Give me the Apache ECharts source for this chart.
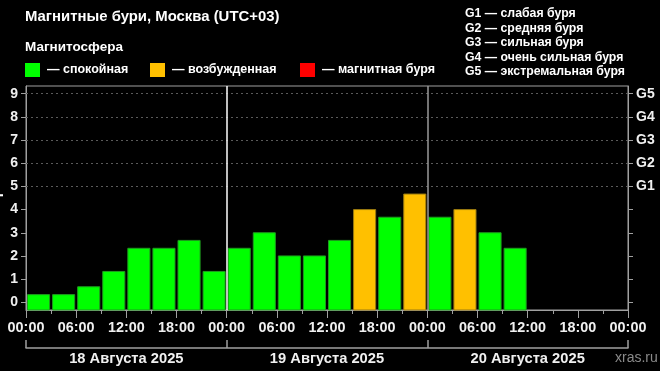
<!DOCTYPE html>
<html><head><meta charset="utf-8">
<script src="https://cdn.jsdelivr.net/npm/echarts@6/dist/echarts.min.js"></script>
<style>html,body{margin:0;padding:0;background:#000}#c{width:660px;height:371px}</style>
</head><body><div id="c"></div>
<script>
// 3-hour slot start times (hours since 18 Aug 00:00)
const slotStartHours = [0,3,6,9,12,15,18,21,24,27,30,33,36,39,42,45,48,51,54,57];
const kpValues = [0.33,0.33,0.67,1.33,2.33,2.33,2.67,1.33,2.33,3.0,2.0,2.0,2.67,4.0,3.67,4.67,3.67,4.0,3.0,2.33];
const levels = ['calm','calm','calm','calm','calm','calm','calm','calm','calm','calm','calm','calm','calm','excited','calm','excited','calm','excited','calm','calm'];
const kpTicks = [0,1,2,3,4,5,6,7,8,9];
const gTickValues = [5,6,7,8,9];
const gLabels = ['G1','G2','G3','G4','G5'];
const gDescriptions = ['G1 — слабая буря','G2 — средняя буря','G3 — сильная буря','G4 — очень сильная буря','G5 — экстремальная буря'];
const dayCenters = [12,36,60];
const dayBounds = [0,24,48,72];
const dayLabels = ['18 Августа 2025','19 Августа 2025','20 Августа 2025'];
const legendLabels = ['— спокойная','— возбужденная','— магнитная буря'];
const levelKeys = ['calm','excited','storm'];

const levelColors = {calm:'#00ff00', excited:'#ffc000', storm:'#ff0000'};
const levelStroke = {calm:'#1f9a1f', excited:'#9a7a10', storm:'#990000'};
const FONT = 'Liberation Sans, Arial, sans-serif';
const Y_MIN = -1/3, Y_MAX = 9 + 1/3;

const barData = slotStartHours.map((h,i)=>[h, kpValues[i], levels[i]]);

const chart = echarts.init(document.getElementById('c'), null, {renderer:'canvas'});

const legendGraphics = [];
const sqX = [25,150,300];
const txX = [47,172,322];
levelKeys.forEach((k,i)=>{
  legendGraphics.push({type:'rect', shape:{x:sqX[i], y:63, width:15, height:14}, style:{fill:levelColors[k]}});
  legendGraphics.push({type:'text', x:txX[i], y:70, style:{text:legendLabels[i], fill:'#fff', font:'bold 12.5px '+FONT, verticalAlign:'middle'}});
});
const gGraphics = gDescriptions.map((t,i)=>({type:'text', x:465, y:14 + i*14.4, style:{text:t, fill:'#fff', font:'bold 12.3px '+FONT, verticalAlign:'middle'}}));

chart.setOption({
  backgroundColor:'#000',
  animation:false,
  grid:{left:26, right:32, top:86, bottom:61, show:true, borderColor:'#a0a0a0', borderWidth:1, backgroundColor:'transparent'},
  graphic:[
    {type:'text', x:25, y:17, style:{text:'Магнитные бури, Москва (UTC+03)', fill:'#fff', font:'bold 14.9px '+FONT, verticalAlign:'middle'}},
    {type:'text', x:25, y:47, style:{text:'Магнитосфера', fill:'#fff', font:'bold 13.5px '+FONT, verticalAlign:'middle'}},
    {type:'text', x:615, y:358, style:{text:'xras.ru', fill:'#8a8a8a', font:'14px '+FONT, verticalAlign:'middle'}},
    {type:'text', x:-4, y:198, rotation:Math.PI/2, style:{text:'Kp', fill:'#fff', font:'bold 14px '+FONT, align:'center', verticalAlign:'middle'}},
    ...legendGraphics,
    ...gGraphics
  ],
  xAxis:[
    {type:'value', min:0, max:72, interval:6, position:'bottom',
     axisLine:{show:true, onZero:false, lineStyle:{color:'#a0a0a0', width:1}},
     axisTick:{show:true, length:8, lineStyle:{color:'#a0a0a0'}},
     minorTick:{show:true, splitNumber:2, length:4, lineStyle:{color:'#a0a0a0'}},
     splitLine:{show:false},
     axisLabel:{color:'#f0f0f0', fontFamily:FONT, fontWeight:'bold', fontSize:14.4, margin:11,
       formatter:v=>String(v%24).padStart(2,'0')+':00'}},
    {type:'value', min:0, max:72, position:'bottom', offset:38,
     axisLine:{show:true, onZero:false, lineStyle:{color:'#a0a0a0', width:1.5}},
     axisTick:{show:true, inside:true, length:8, customValues:dayBounds, lineStyle:{color:'#a0a0a0', width:1.5}},
     splitLine:{show:false},
     axisLabel:{show:true, customValues:dayCenters, color:'#f0f0f0', fontFamily:FONT, fontWeight:'bold', fontSize:14.7, margin:3,
       formatter:v=>dayLabels[dayCenters.indexOf(v)]}}
  ],
  yAxis:[
    {type:'value', min:Y_MIN, max:Y_MAX, position:'left',
     axisLine:{show:true, onZero:false, lineStyle:{color:'#a0a0a0'}},
     axisTick:{show:true, length:5, customValues:kpTicks, lineStyle:{color:'#a0a0a0'}},
     splitLine:{show:false},
     axisLabel:{customValues:kpTicks, color:'#f0f0f0', fontFamily:FONT, fontWeight:'bold', fontSize:14, margin:8}},
    {type:'value', min:Y_MIN, max:Y_MAX, position:'right',
     axisLine:{show:true, onZero:false, lineStyle:{color:'#a0a0a0'}},
     axisTick:{show:true, length:5, customValues:kpTicks, lineStyle:{color:'#a0a0a0'}},
     splitLine:{show:false},
     axisLabel:{customValues:gTickValues, color:'#f0f0f0', fontFamily:FONT, fontWeight:'bold', fontSize:14, margin:8,
       formatter:v=>gLabels[gTickValues.indexOf(v)]}}
  ],
  series:[{
    type:'custom',
    xAxisIndex:0, yAxisIndex:0,
    data:barData,
    renderItem:(params, api)=>{
      const h = api.value(0), v = api.value(1);
      const lvl = barData[params.dataIndex][2];
      const p0 = api.coord([h, Y_MIN]);
      const p1 = api.coord([h+3, v]);
      const x = p0[0] + 1.5, w = p1[0] - p0[0] - 3;
      return {type:'rect', shape:{x:x, y:p1[1], width:w, height:p0[1]-p1[1]},
        style:{fill:levelColors[lvl], stroke:levelStroke[lvl], lineWidth:1}};
    },
    markLine:{silent:true, symbol:'none', label:{show:false},
      data:[
        ...gTickValues.map(v=>({yAxis:v, lineStyle:{color:'#5a5a5a', type:[2,3], width:1}})),
        {xAxis:24, lineStyle:{color:'#ffffff', type:'solid', width:1.5}},
        {xAxis:48, lineStyle:{color:'#9a9a9a', type:'solid', width:1.5}}
      ]}
  }]
});
</script></body></html>
